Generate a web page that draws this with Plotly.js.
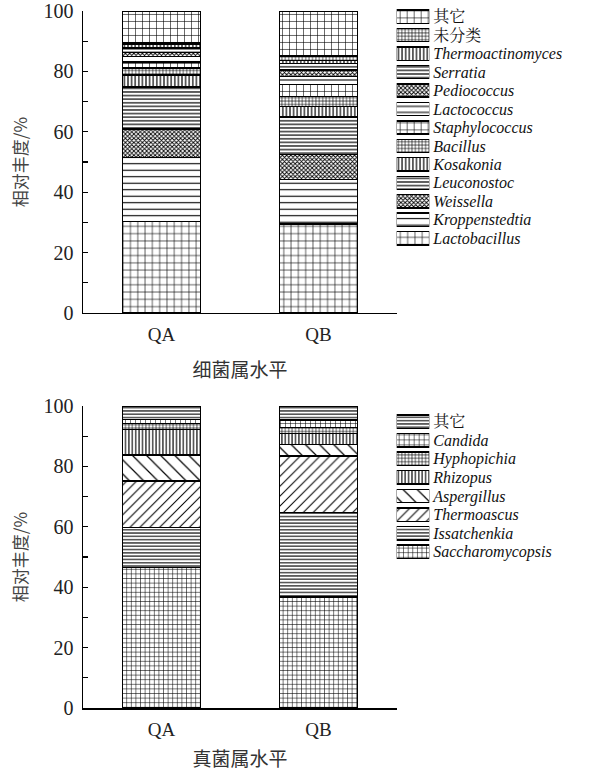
<!DOCTYPE html>
<html>
<head>
<meta charset="utf-8">
<script src="https://cdn.plot.ly/plotly-3.0.1.min.js"></script>
<style>html,body{margin:0;padding:0;background:#fff;}#chart{width:600px;height:771px;}</style>
</head>
<body>
<div id="chart"></div>
<script>
// ---- data ----
const categories = ['QA', 'QB'];

const bacteriaGenera = ['Lactobacillus', 'Kroppenstedtia', 'Weissella', 'Leuconostoc', 'Kosakonia', 'Bacillus',
  'Staphylococcus', 'Lactococcus', 'Pediococcus', 'Serratia', 'Thermoactinomyces', '未分类', '其它'];
const bacteriaQA = [30.2, 21.3, 9.4, 13.9, 4.0, 2.3, 2.0, 1.8, 1.3, 1.6, 1.2, 0.6, 10.4];
const bacteriaQB = [29.5, 14.6, 8.3, 12.5, 3.5, 3.3, 3.9, 2.7, 2.2, 2.2, 1.0, 1.4, 14.9];

const fungiGenera = ['Saccharomycopsis', 'Issatchenkia', 'Thermoascus', 'Aspergillus', 'Rhizopus',
  'Hyphopichia', 'Candida', '其它'];
const fungiQA = [46.5, 13.2, 15.5, 8.6, 8.4, 2.0, 1.3, 4.5];
const fungiQB = [36.7, 28.1, 18.6, 3.9, 3.6, 1.9, 2.5, 4.7];

const yTickValues = [0, 20, 40, 60, 80, 100];
const yTitle = '相对丰度/%';
const bacteriaXTitle = '细菌属水平';
const fungiXTitle = '真菌属水平';

// ---- styles (patterns) ----
const bacteriaPatterns = [
  {shape: '+', size: 7.3, solidity: 0.16},  // Lactobacillus
  {shape: '-', size: 6.5, solidity: 0.17},  // Kroppenstedtia
  {shape: 'x', size: 3, solidity: 0.5},     // Weissella
  {shape: '-', size: 3.6, solidity: 0.33},  // Leuconostoc
  {shape: '|', size: 3.6, solidity: 0.33},  // Kosakonia
  {shape: '+', size: 3.4, solidity: 0.33},  // Bacillus
  {shape: '+', size: 7, solidity: 0.16},    // Staphylococcus
  {shape: '-', size: 6, solidity: 0.18},    // Lactococcus
  {shape: 'x', size: 3, solidity: 0.5},     // Pediococcus
  {shape: '-', size: 3.6, solidity: 0.33},  // Serratia
  {shape: '|', size: 3.6, solidity: 0.33},  // Thermoactinomyces
  {shape: '+', size: 3.4, solidity: 0.33},  // 未分类
  {shape: '+', size: 7, solidity: 0.16}     // 其它
];
const fungiPatterns = [
  {shape: '+', size: 4.6, solidity: 0.22},  // Saccharomycopsis
  {shape: '-', size: 3.3, solidity: 0.33},  // Issatchenkia
  {shape: '/', size: 7, solidity: 0.15},    // Thermoascus
  {shape: '\\', size: 10, solidity: 0.12},  // Aspergillus
  {shape: '|', size: 3.4, solidity: 0.33},  // Rhizopus
  {shape: '+', size: 3.4, solidity: 0.33},  // Hyphopichia
  {shape: '+', size: 5, solidity: 0.2},     // Candida
  {shape: '-', size: 3.3, solidity: 0.33}   // 其它
];

const FONT = 'Liberation Serif, Times New Roman, Noto Serif CJK SC, Noto Sans CJK SC, serif';
const isCJK = s => /[\u4e00-\u9fff]/.test(s);
const label = s => isCJK(s) ? s : '<i>' + s + '</i>';

// plot-area geometry (paper fractions)
const MAIN_X = [0, 0.6193];
const SWATCH_X = [0.6187, 0.6830];

function makeTraces(genera, valsA, valsB, patterns, xa, ya) {
  return genera.map((g, i) => ({
    type: 'bar',
    name: g,
    x: categories,
    y: [valsA[i], valsB[i]],
    xaxis: xa, yaxis: ya,
    width: 0.5,
    showlegend: false,
    marker: {
      color: 'white',
      line: {color: 'black', width: 1.4},
      pattern: Object.assign({fgcolor: 'black', bgcolor: 'white', fillmode: 'replace'}, patterns[i])
    },
    hoverinfo: 'name+y'
  }));
}

// legend swatches: one horizontal bar per genus on its own small category axis
function makeLegend(genera, patterns, xa, ya) {
  return {
    type: 'bar', orientation: 'h',
    y: genera, x: genera.map(() => 1),
    xaxis: xa, yaxis: ya, width: 0.72, showlegend: false, hoverinfo: 'y',
    marker: {
      color: 'white',
      line: {color: 'black', width: 1.4},
      pattern: {
        shape: patterns.map(p => p.shape),
        size: patterns.map(p => p.size),
        solidity: patterns.map(p => p.solidity),
        fgcolor: 'black', bgcolor: 'white', fillmode: 'replace'
      }
    }
  };
}

const traces = [].concat(
  makeTraces(bacteriaGenera, bacteriaQA, bacteriaQB, bacteriaPatterns, 'x', 'y'),
  makeTraces(fungiGenera, fungiQA, fungiQB, fungiPatterns, 'x2', 'y2'),
  [makeLegend(bacteriaGenera, bacteriaPatterns, 'x3', 'y3'),
   makeLegend(fungiGenera, fungiPatterns, 'x4', 'y4')]
);

function yAxis(domain, anchor) {
  return {
    domain: domain, anchor: anchor, range: [0, 100], autorange: false,
    tickvals: yTickValues, ticks: 'inside', ticklen: 5, tickwidth: 1.3, tickcolor: 'black',
    minor: {dtick: 10, tick0: 0, ticks: 'inside', ticklen: 5, tickwidth: 1.3, tickcolor: 'black', showgrid: false},
    showline: true, linecolor: 'black', linewidth: 1.5, showgrid: false, zeroline: false,
    ticklabelstandoff: 4, ticklabeloverflow: 'allow',
    tickfont: {family: FONT, size: 20, color: '#222'},
    title: {text: yTitle, font: {family: 'Noto Sans CJK SC, sans-serif', size: 17, color: '#444'}, standoff: 11}
  };
}
function xAxis(domain, anchor, title) {
  return {
    domain: domain, anchor: anchor, type: 'category', range: [-0.5, 1.5],
    showline: true, linecolor: 'black', linewidth: 1.5, ticks: '', showgrid: false, zeroline: false,
    ticklabelstandoff: 4,
    tickfont: {family: FONT, size: 19, color: '#222'},
    title: {text: title, font: {family: 'Noto Sans CJK SC, sans-serif', size: 19, color: '#333'}, standoff: 19}
  };
}
function legendY(genera, domain, anchor) {
  return {
    domain: domain, anchor: anchor, type: 'category', side: 'right',
    categoryorder: 'array', categoryarray: genera,
    range: [-0.5, genera.length - 0.5], autorange: false,
    tickvals: genera, ticktext: genera.map(label),
    showline: false, ticks: '', showgrid: false, zeroline: false, ticklabelstandoff: 3,
    ticklabeloverflow: 'allow',
    tickfont: {family: FONT, size: 16, color: '#111'}
  };
}
function legendX(anchor) {
  return {domain: SWATCH_X, anchor: anchor, range: [0, 1], autorange: false, visible: false, fixedrange: true};
}

const layout = {
  width: 600, height: 771,
  paper_bgcolor: 'white', plot_bgcolor: 'white',
  margin: {l: 83, r: 10, t: 5, b: 63},
  barmode: 'stack',
  xaxis: xAxis(MAIN_X, 'y', bacteriaXTitle),
  yaxis: yAxis([0.5619, 0.9915], 'x'),
  xaxis2: xAxis(MAIN_X, 'y2', fungiXTitle),
  yaxis2: yAxis([0, 0.4296], 'x2'),
  xaxis3: legendX('y3'),
  yaxis3: legendY(bacteriaGenera, [0.6550, 0.9966], 'x3'),
  xaxis4: legendX('y4'),
  yaxis4: legendY(fungiGenera, [0.2091, 0.4205], 'x4'),
  showlegend: false
};

Plotly.newPlot('chart', traces, layout, {displayModeBar: false, staticPlot: true});
</script>
</body>
</html>
